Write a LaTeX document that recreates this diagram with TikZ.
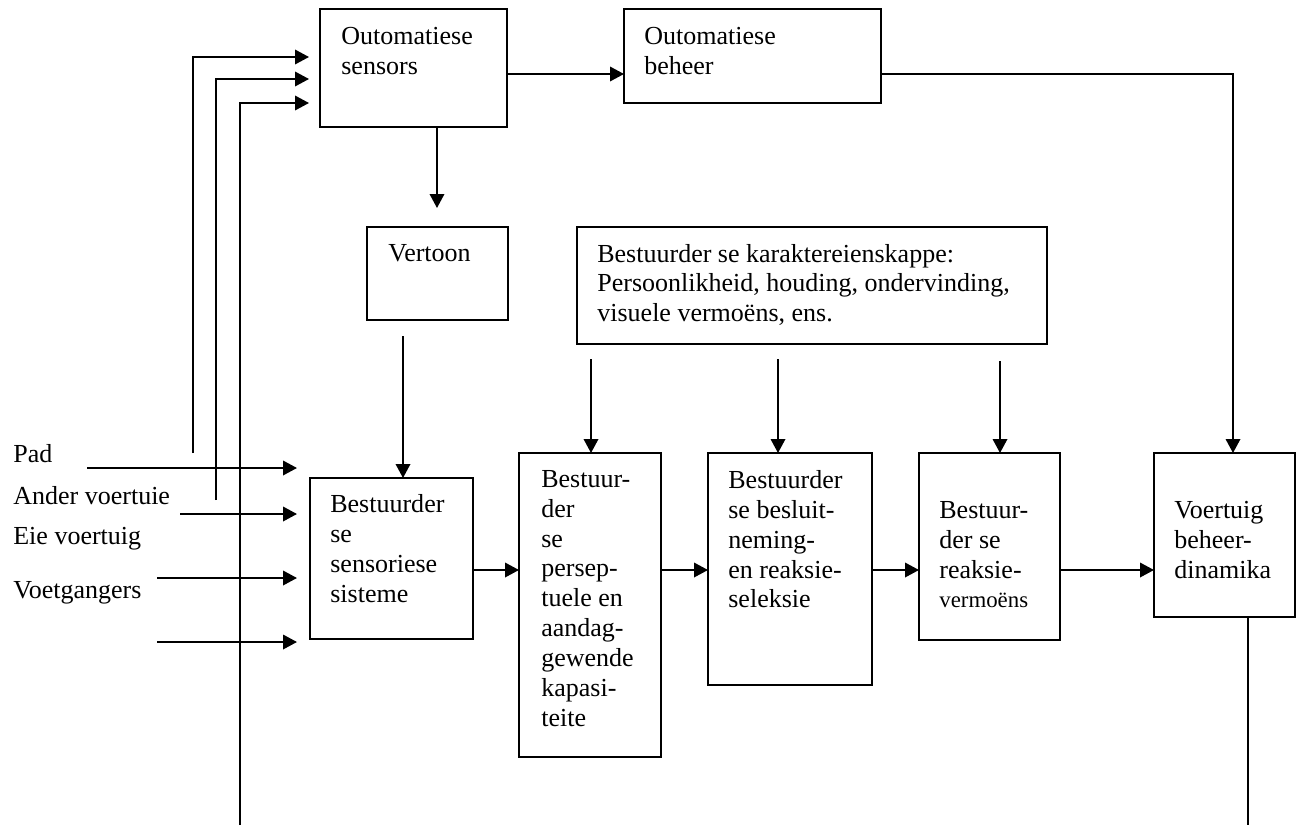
\documentclass[tikz,border=0pt]{standalone}
\usepackage{fontspec}
\setmainfont{Liberation Serif}
\usetikzlibrary{arrows.meta,fit}
\begin{document}
\begin{tikzpicture}[x=0.02cm,y=-0.02cm,
  box/.style={draw, line width=1.1pt, inner sep=0pt, outer sep=0pt},
  txt/.style={anchor=north west, inner sep=0pt, align=left, font=\fontsize{14.8pt}{17pt}\selectfont},
  arr/.style={line width=1.1pt, -{Triangle[length=0.28cm,width=0.29cm]}},
  ln/.style={line width=1.1pt}]
\useasboundingbox (0,0) rectangle (1298,825);
% boxes
\node[box, fit={(320,9)(507,127)}] (sens) {};
\node[box, fit={(624,9)(881,103)}] (beh) {};
\node[box, fit={(367,227)(508,320)}] (vert) {};
\node[box, fit={(577,227)(1047,344)}] (kar) {};
\node[box, fit={(310,478)(473,639)}] (sso) {};
\node[box, fit={(519,453)(661,757)}] (per) {};
\node[box, fit={(708,453)(872,685)}] (bes) {};
\node[box, fit={(919,453)(1060,640)}] (rea) {};
\node[box, fit={(1154,453)(1295,617)}] (voe) {};
% texts
\node[txt] (tsens) at (341,27) {Outomatiese\\sensors};
\node[txt] (tbeh) at (644,27) {Outomatiese\\beheer};
\node[txt] (tvert) at (388,244) {Vertoon};
\node[txt, font=\fontsize{14.8pt}{16.8pt}\selectfont] (tkar) at (597,244) {Bestuurder se karaktereienskappe:\\Persoonlikheid, houding, ondervinding,\\visuele vermoëns, ens.};
\node[txt] (tsso) at (330,494) {Bestuurder\\se\\sensoriese\\sisteme};
\node[txt] (tper) at (541,470) {Bestuur-\\der\\se\\persep-\\tuele en\\aandag-\\gewende\\kapasi-\\teite};
\node[txt] (tbes) at (728,470) {Bestuurder\\se besluit-\\neming-\\en reaksie-\\seleksie};
\node[txt] (trea) at (939,501) {Bestuur-\\der se\\reaksie-\\{\fontsize{13pt}{17pt}\selectfont vermoëns}};
\node[txt] (tvoe) at (1174,501) {Voertuig\\beheer-\\dinamika};
\node[txt] (lpad) at (13,444) {Pad};
\node[txt] (land) at (13,486) {Ander voertuie};
\node[txt] (leie) at (13,527) {Eie voertuig};
\node[txt] (lvoe) at (13,581) {Voetgangers};
% coordinates
\coordinate (sa) at (0,74);
\coordinate (vb) at (1233,74);
\coordinate (l1) at (193,453); \coordinate (t1) at (309,57);
\coordinate (l2) at (216,500); \coordinate (t2) at (309,79);
\coordinate (l3) at (240,825); \coordinate (t3) at (309,103);
\coordinate (v1) at (437,208);
\coordinate (v2) at (403,336);
\coordinate (k1) at (591,359);
\coordinate (k2) at (778,359);
\coordinate (k3) at (1000,361);
\coordinate (ra) at (0,570);
\coordinate (vo) at (1248,825);
\coordinate (i1s) at (87,468);  \coordinate (i1e) at (297,468);
\coordinate (i2s) at (180,514); \coordinate (i2e) at (297,514);
\coordinate (i3s) at (157,578); \coordinate (i3e) at (297,578);
\coordinate (i4s) at (157,642); \coordinate (i4e) at (297,642);
% connectors
\draw[arr] (sens.east |- sa) -- (beh.west |- sa);
\draw[arr] (beh.east |- sa) -- (vb) -- (vb |- voe.north);
\draw[arr] (l1) |- (t1);
\draw[arr] (l2) |- (t2);
\draw[arr] (l3) |- (t3);
\draw[arr] (v1 |- sens.south) -- (v1);
\draw[arr] (v2) -- (v2 |- sso.north);
\draw[arr] (k1) -- (k1 |- per.north);
\draw[arr] (k2) -- (k2 |- bes.north);
\draw[arr] (k3) -- (k3 |- rea.north);
\draw[arr] (sso.east |- ra) -- (per.west |- ra);
\draw[arr] (per.east |- ra) -- (bes.west |- ra);
\draw[arr] (bes.east |- ra) -- (rea.west |- ra);
\draw[arr] (rea.east |- ra) -- (voe.west |- ra);
\draw[ln] (vo |- voe.south) -- (vo);
\draw[arr] (i1s) -- (i1e);
\draw[arr] (i2s) -- (i2e);
\draw[arr] (i3s) -- (i3e);
\draw[arr] (i4s) -- (i4e);
\end{tikzpicture}
\end{document}
